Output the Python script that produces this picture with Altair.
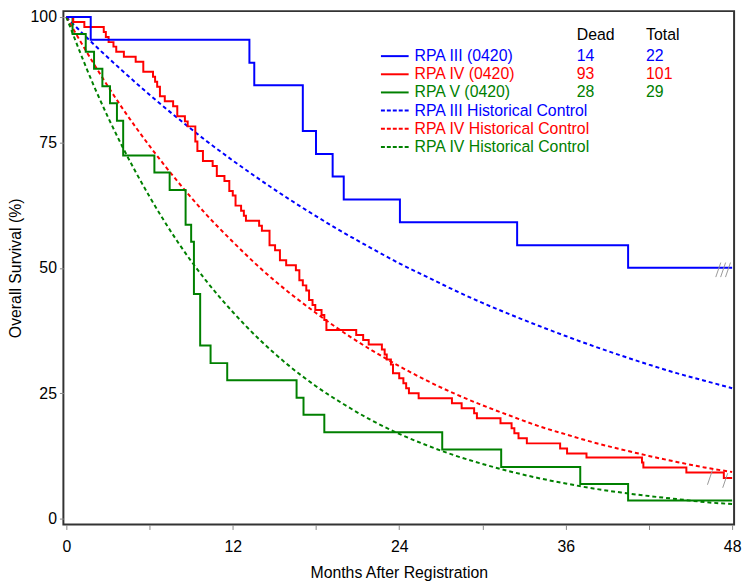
import altair as alt
import pandas as pd

# ---- Kaplan-Meier curves (time of step in months, survival % after step) ----
blue_t = [0, 1.76, 13.2, 13.55, 17.05, 18.0, 19.2, 20.0, 24.05, 32.5, 40.5, 48.0]
blue_s = [100, 95.45, 90.9, 86.4, 77.3, 72.7, 68.2, 63.6, 59.1, 54.5, 50.0, 50.0]

red_t = [0, 0.5, 1.3, 2.7, 2.85, 3.05, 3.4, 3.6, 4.15, 5.0, 5.55, 6.25, 6.4, 6.55,
         6.75, 7.1, 7.7, 8.0, 8.55, 8.75, 9.3, 9.45, 9.85, 10.55, 10.85, 11.4,
         11.75, 12.0, 12.2, 12.6, 12.8, 12.95, 13.9, 14.1, 14.65, 15.05, 15.4,
         15.85, 16.55, 16.8, 17.05, 17.3, 17.5, 17.75, 17.95, 18.4, 18.6, 18.75,
         20.9, 21.4, 21.8, 22.75, 22.95, 23.1, 23.4, 23.55, 24.0, 24.3, 24.5,
         24.7, 25.4, 27.8, 28.5, 29.4, 29.6, 31.3, 32.1, 32.3, 32.6, 33.2, 35.6,
         36.1, 37.5, 41.5, 41.6, 44.7, 47.4, 48.0]
red_s = [100, 99.0, 98.0, 97.0, 96.0, 95.0, 94.1, 93.1, 92.1, 91.1, 89.1, 88.1, 87.1, 86.1,
         84.2, 83.2, 82.2, 80.2, 79.2, 78.2, 75.2, 73.3, 71.3, 70.3, 68.3, 67.3,
         65.3, 64.4, 62.4, 61.4, 60.4, 59.4, 58.4, 57.4, 54.5, 53.5, 51.5,
         50.5, 49.5, 47.5, 46.5, 45.5, 43.6, 42.6, 41.6, 40.6, 39.6, 37.6,
         36.6, 35.6, 34.7, 33.7, 32.7, 31.7, 30.7, 29.0, 28.0, 27.0, 26.0,
         25.0, 24.0, 23.0, 22.0, 21.0, 20.0, 19.0, 18.0, 17.0, 16.0, 15.0, 14.0,
         13.0, 12.2, 11.2, 10.2, 9.2, 8.1, 8.1]

green_t = [0, 0.45, 1.4, 2.0, 2.6, 3.15, 3.65, 4.1, 6.35, 7.45, 8.6, 9.0, 9.2, 9.65,
           10.4, 11.6, 16.6, 17.1, 18.6, 27.1, 31.35, 37.05, 40.5, 48.0]
green_s = [100, 96.6, 93.1, 89.7, 86.2, 82.8, 79.3, 72.4, 69.0, 65.5, 58.6, 55.2, 44.8, 34.5,
           31.0, 27.6, 24.1, 20.7, 17.2, 13.8, 10.3, 6.9, 3.6, 3.6]

# ---- Historical control curves (read every 2 months) ----
hist_t = [0, 2, 4, 6, 8, 10, 12, 14, 16, 18, 20, 22, 24, 26, 28, 30, 32, 34, 36, 38, 40, 42, 44, 46, 48]
blue_h = [100, 94.5, 89.4, 84.5, 79.9, 75.5, 71.4, 67.5, 63.8, 60.3, 57.0, 53.9, 50.9,
          48.2, 45.5, 43.0, 40.7, 38.5, 36.4, 34.4, 32.5, 30.7, 29.0, 27.5, 26.0]
red_h = [100, 90.6, 82.0, 74.3, 67.3, 60.9, 55.2, 49.9, 45.2, 41.0, 37.1, 33.6, 30.4,
         27.5, 24.9, 22.6, 20.5, 18.5, 16.8, 15.2, 13.8, 12.5, 11.3, 10.2, 9.3]
green_h = [100, 86.2, 74.4, 64.2, 55.3, 47.7, 41.2, 35.5, 30.6, 26.4, 22.8, 19.6, 16.9,
           14.6, 12.6, 10.9, 9.4, 8.1, 7.0, 6.0, 5.2, 4.5, 3.9, 3.3, 2.9]

# ---- Censor marks (centre time, centre survival) ----
cens_t = [47.0, 47.35, 47.7, 46.4, 47.5]
cens_s = [49.6, 49.6, 49.6, 8.2, 7.6]

# ---- Legend ----
leg_labels = ["RPA III (0420)", "RPA IV (0420)", "RPA V (0420)",
              "RPA III Historical Control", "RPA IV Historical Control", "RPA IV Historical Control"]
leg_colors = ["#0000FF", "#FF0000", "#008000", "#0000FF", "#FF0000", "#008000"]
leg_dashed = [False, False, False, True, True, True]
dead = ["14", "93", "28"]
total = ["22", "101", "29"]

BLUE, RED, GREEN = "#0000FF", "#FF0000", "#008000"
FONT = "Liberation Sans"

x_scale = alt.Scale(domain=[-0.21, 48.14], nice=False, zero=False)
y_scale = alt.Scale(domain=[-1.18, 101.18], nice=False, zero=False)
x_axis = alt.Axis(values=[0, 6, 12, 18, 24, 30, 36, 42, 48],
                  labelExpr="datum.value % 12 == 0 ? datum.label : ''",
                  title="Months After Registration",
                  tickSize=5, labelPadding=9, titlePadding=11)
y_axis = alt.Axis(values=[0, 25, 50, 75, 100],
                  title="Overall Survival (%)",
                  tickSize=4, labelPadding=3, titlePadding=7)
x_enc = alt.X("t:Q", scale=x_scale, axis=x_axis)
y_enc = alt.Y("s:Q", scale=y_scale, axis=y_axis)


def km(ts, ss, color):
    df = pd.DataFrame({"t": ts, "s": ss})
    return alt.Chart(df).mark_line(interpolate="step-after", color=color,
                                   strokeWidth=2).encode(x=x_enc, y=y_enc)


def hist(ts, ss, color):
    df = pd.DataFrame({"t": ts, "s": ss})
    return alt.Chart(df).mark_line(interpolate="monotone", color=color, strokeWidth=2,
                                   strokeDash=[4, 3]).encode(x=x_enc, y=y_enc)


cens = alt.Chart(pd.DataFrame({"t": cens_t, "s": cens_s})).transform_calculate(
    t1="datum.t - 0.18", t2="datum.t + 0.18", s1="datum.s - 1.45", s2="datum.s + 1.45"
).mark_rule(color="#999999", strokeWidth=1).encode(
    x=alt.X("t1:Q", scale=x_scale, axis=x_axis), x2="t2:Q",
    y=alt.Y("s1:Q", scale=y_scale, axis=y_axis), y2="s2:Q")

leg_df = pd.DataFrame({"label": leg_labels, "col": leg_colors, "dashed": leg_dashed,
                       "idx": list(range(len(leg_labels)))})
leg_base = alt.Chart(leg_df).transform_calculate(py="45.5 + datum.idx * 18.35")

leg_solid = leg_base.transform_filter("!datum.dashed").mark_rule(strokeWidth=2).encode(
    x=alt.value(321), x2=alt.value(349), y=alt.Y("py:Q", scale=None),
    color=alt.Color("col:N", scale=None))
leg_dash = leg_base.transform_filter("datum.dashed").mark_rule(strokeWidth=2, strokeDash=[4, 2]).encode(
    x=alt.value(321), x2=alt.value(349), y=alt.Y("py:Q", scale=None),
    color=alt.Color("col:N", scale=None))
leg_text = leg_base.mark_text(align="left", baseline="middle", fontSize=16, font=FONT).encode(
    x=alt.value(355), y=alt.Y("py:Q", scale=None), text="label:N",
    color=alt.Color("col:N", scale=None))

num_df = pd.DataFrame({"dead": dead, "total": total, "col": leg_colors[:3], "idx": [0, 1, 2]})
num_base = alt.Chart(num_df).transform_calculate(py="45.5 + datum.idx * 18.35")
dead_text = num_base.mark_text(align="left", baseline="middle", fontSize=16, font=FONT).encode(
    x=alt.value(519), y=alt.Y("py:Q", scale=None), text="dead:N",
    color=alt.Color("col:N", scale=None))
total_text = num_base.mark_text(align="left", baseline="middle", fontSize=16, font=FONT).encode(
    x=alt.value(589), y=alt.Y("py:Q", scale=None), text="total:N",
    color=alt.Color("col:N", scale=None))

hdr_df = pd.DataFrame({"h": ["Dead", "Total"], "px": [519, 589]})
hdr = alt.Chart(hdr_df).mark_text(align="left", baseline="middle", fontSize=16, font=FONT,
                                  color="black").encode(
    x=alt.X("px:Q", scale=None), y=alt.value(24), text="h:N")

chart = alt.layer(
    hist(hist_t, blue_h, BLUE), hist(hist_t, red_h, RED), hist(hist_t, green_h, GREEN),
    km(green_t, green_s, GREEN), km(red_t, red_s, RED), km(blue_t, blue_s, BLUE),
    cens,
    leg_solid, leg_dash, leg_text, dead_text, total_text, hdr,
).properties(
    width=678, height=519,
    padding={"left": 56, "top": 0, "right": 8, "bottom": 60},
    autosize=alt.AutoSizeParams(type="none"),
).configure_view(
    stroke="#333333", strokeWidth=2
).configure_axis(
    domain=False, grid=False,
    labelFont=FONT, labelFontSize=16, labelColor="black",
    titleFont=FONT, titleFontSize=16, titleFontWeight="normal", titleColor="black",
    tickColor="#888888", tickWidth=1,
)

chart.save("out.html", embed_options={"renderer": "svg", "actions": False})
